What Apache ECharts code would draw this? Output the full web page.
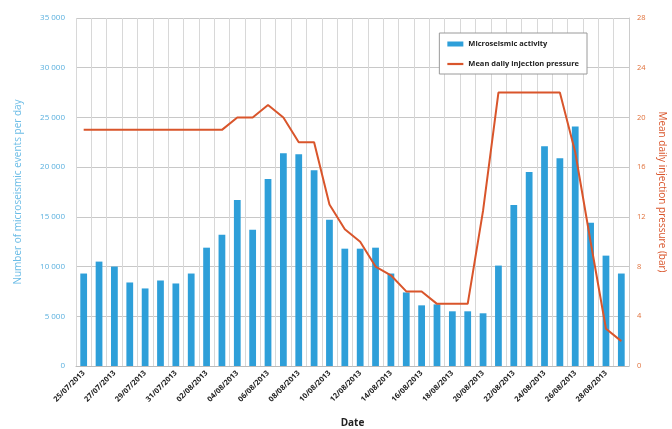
<!DOCTYPE html>
<html>
<head>
<meta charset="utf-8">
<script src="https://cdn.jsdelivr.net/npm/echarts@6/dist/echarts.min.js"></script>
<style>html,body{margin:0;padding:0;background:#fff}#c{width:672px;height:429px}</style>
</head>
<body>
<div id="c"></div>
<script>
// Dates (25/07/2013 .. 29/08/2013)
const dates = (function(){
  const out = [];
  const jul = [25,26,27,28,29,30,31];
  jul.forEach(d => out.push(String(d).padStart(2,'0') + '/07/2013'));
  for (let d = 1; d <= 29; d++) out.push(String(d).padStart(2,'0') + '/08/2013');
  return out;
})();

const microseismic = [
  9300, 10500, 10000, 8400, 7800, 8600, 8300, 9300, 11900, 13200,
  16700, 13700, 18800, 21400, 21300, 19700, 14700, 11800, 11800, 11900,
  9300, 7400, 6100, 6200, 5500, 5500, 5300, 10100, 16200, 19500,
  22100, 20900, 24100, 14400, 11100, 9300
];

const pressure = [
  19, 19, 19, 19, 19, 19, 19, 19, 19, 19,
  20, 20, 21, 20, 18, 18, 13, 11, 10, 8,
  7.3, 6, 6, 5, 5, 5, 12.5, 22, 22, 22,
  22, 22, 17.2, 10, 3, 2
];

const leftTicks = [0, 5000, 10000, 15000, 20000, 25000, 30000, 35000];
const rightTicks = [0, 4, 8, 12, 16, 20, 24, 28];

const chart = echarts.init(document.getElementById('c'), null, {renderer: 'canvas'});
const fmt = v => v === 0 ? '0' : String(v).replace(/\B(?=(\d{3})+(?!\d))/g, ' ');

chart.setOption({
  animation: false,
  textStyle: {fontFamily: 'Open Sans'},
  grid: {left: 76, right: 43, top: 18, bottom: 63, containLabel: false, outerBoundsMode: 'none'},
  legend: {
    right: 85, top: 33,
    orient: 'vertical',
    itemGap: 12,
    padding: [7, 8, 6, 8],
    borderColor: '#9a9a9a', borderWidth: 1,
    backgroundColor: '#fff',
    itemWidth: 16, itemHeight: 5,
    textStyle: {fontSize: 7.5, fontWeight: 'bold', color: '#222'},
    data: [
      {name: 'Microseismic activity', icon: 'rect'},
      {name: 'Mean daily injection pressure', icon: 'path://M0,0 L16,0 L16,2.2 L0,2.2 Z'}
    ]
  },
  xAxis: {
    type: 'category',
    data: dates,
    name: 'Date',
    nameLocation: 'middle',
    nameGap: 52,
    nameTextStyle: {fontSize: 10, fontWeight: 'bold', color: '#222'},
    axisLine: {lineStyle: {color: '#bbb'}},
    axisTick: {show: false},
    axisLabel: {interval: 1, rotate: 45, fontSize: 7.5, fontWeight: 'bold', color: '#222', margin: 6},
    splitLine: {show: true, interval: 0, lineStyle: {color: '#d8d8d8'}}
  },
  yAxis: [
    {
      type: 'value', min: 0, max: 35000, interval: 5000,
      name: 'Number of microseismic events per day',
      nameLocation: 'middle', nameGap: 53, nameRotate: 90,
      nameTextStyle: {fontSize: 10, color: '#6bbce6'},
      axisLine: {show: false}, axisTick: {show: false},
      axisLabel: {fontSize: 8, color: '#5ab0de', formatter: fmt, margin: 11},
      splitLine: {lineStyle: {color: '#c8c8c8'}}
    },
    {
      type: 'value', min: 0, max: 28, interval: 4,
      name: 'Mean daily injection pressure (bar)',
      nameLocation: 'middle', nameGap: 26, nameRotate: -90,
      nameTextStyle: {fontSize: 10, color: '#d9552b'},
      axisLine: {show: true, lineStyle: {color: '#ccc'}}, axisTick: {show: false},
      axisLabel: {fontSize: 7.5, color: '#e0703a', margin: 8},
      splitLine: {show: false}
    }
  ],
  series: [
    {
      name: 'Microseismic activity', type: 'bar', data: microseismic,
      barWidth: '44%',
      itemStyle: {color: '#2e9fd9'}
    },
    {
      name: 'Mean daily injection pressure', type: 'line', yAxisIndex: 1, data: pressure,
      symbol: 'none',
      lineStyle: {color: '#d9552b', width: 2},
      itemStyle: {color: '#d9552b'}
    }
  ]
});
</script>
</body>
</html>
